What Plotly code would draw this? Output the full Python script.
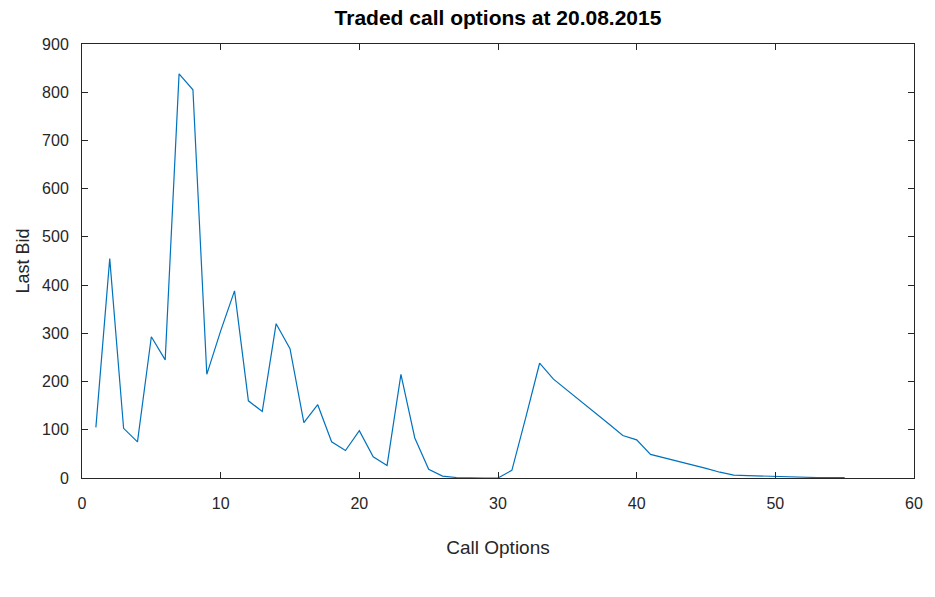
import plotly.graph_objects as go

call_options = list(range(1, 56))
last_bid = [105, 455, 103, 75, 293, 245, 838, 805, 215, 305,
            388, 160, 138, 320, 268, 115, 152, 75, 57, 98,
            44, 26, 215, 83, 18, 4, 1, 0, 0, 0,
            16, 125, 238, 205, 182, 160, 136, 112, 88, 79,
            49, 42, 35, 27, 20, 12, 6, 5, 4, 3,
            2, 1, 1, 1, 1]

title_text = "Traded call options at 20.08.2015"
x_label = "Call Options"
y_label = "Last Bid"

axis_color = "#262626"
font_family = "Liberation Sans, Arial, sans-serif"

fig = go.Figure()
fig.add_trace(go.Scatter(
    x=call_options, y=last_bid, mode="lines",
    line=dict(color="#0072BD", width=1.2),
    showlegend=False,
))

common_axis = dict(
    showline=True, linecolor=axis_color, linewidth=1,
    mirror="ticks", ticks="inside", ticklen=6, tickcolor=axis_color,
    showgrid=False, zeroline=False,
    tickfont=dict(family=font_family, size=16, color=axis_color),
)

fig.update_layout(
    width=935, height=597,
    margin=dict(l=82, r=17, t=44, b=119),
    paper_bgcolor="white", plot_bgcolor="white",
    title=dict(text="<b>" + title_text + "</b>", x=0.5, xref="paper",
               xanchor="center",
               y=1 - 18 / 597, yanchor="middle",
               font=dict(family=font_family, size=21, color="black")),
    xaxis=dict(range=[0, 60], tickmode="linear", tick0=0, dtick=10,
               ticklabelstandoff=11,
               title=dict(text=x_label, standoff=29,
                          font=dict(family=font_family, size=19, color=axis_color)),
               **common_axis),
    yaxis=dict(range=[0, 900], tickmode="linear", tick0=0, dtick=100,
               ticklabelstandoff=9,
               title=dict(text=y_label, standoff=7,
                          font=dict(family=font_family, size=18, color=axis_color)),
               **common_axis),
)

fig.write_html("out.html")
